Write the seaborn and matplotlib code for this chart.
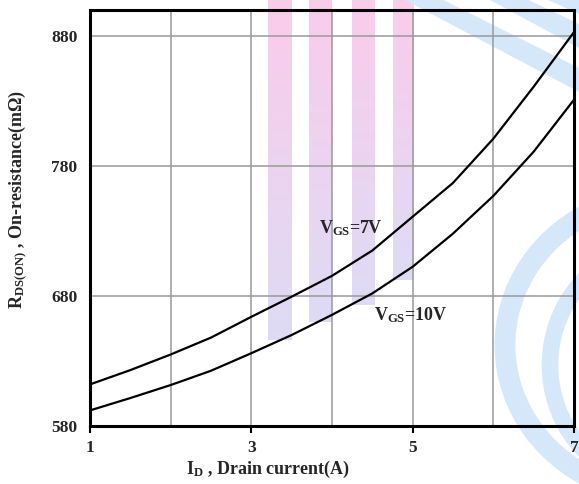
import numpy as np
import pandas as pd
import matplotlib
matplotlib.use("Agg")
import matplotlib.pyplot as plt
import seaborn as sns
from matplotlib.patches import Polygon, Arc

# ---- data ----
drain_current = [1, 1.5, 2, 2.5, 3, 3.5, 4, 4.5, 5, 5.5, 6, 6.5, 7]
rds_vgs7 = [612, 623, 635, 648, 664, 679.5, 695.5, 715, 741, 767, 801, 841, 883]
rds_vgs10 = [592, 601.5, 611.5, 622.5, 636, 650, 665.5, 682, 702.5, 728, 757, 791, 831]
series_names = ["VGS=7V", "VGS=10V"]
x_ticks = [1, 3, 5, 7]
x_grid_minor = [2, 4, 6]
y_ticks = [580, 680, 780, 880]

df = pd.DataFrame({
    "ID": drain_current * 2,
    "RDS": rds_vgs7 + rds_vgs10,
    "series": [series_names[0]] * len(drain_current) + [series_names[1]] * len(drain_current),
})

sns.set_theme(style="white")
plt.rcParams["font.family"] = ["Liberation Serif", "DejaVu Serif"]
plt.rcParams["font.weight"] = "bold"
plt.rcParams["mathtext.fontset"] = "custom"
plt.rcParams["mathtext.rm"] = "Liberation Serif:bold"
plt.rcParams["mathtext.it"] = "Liberation Serif:bold"
plt.rcParams["mathtext.bf"] = "Liberation Serif:bold"

W, H = 579, 484
fig = plt.figure(figsize=(W / 100, H / 100), dpi=100)

# ---- background watermark (pixel coordinates) ----
bg = fig.add_axes([0, 0, 1, 1], zorder=0)
bg.axis("off")
pink_top = np.array([0.98, 0.80, 0.92])
pink_bot = np.array([0.87, 0.86, 0.96])
grad = np.linspace(0, 1, 100)[:, None, None]
img = (pink_top * (1 - grad) + pink_bot * grad)
for (x0, x1, y1) in [(268, 292, 340), (309, 332, 322), (352, 375, 305), (393, 414, 280)]:
    bg.imshow(img, extent=(x0, x1, y1, 0), aspect="auto", zorder=0)
blue = "#d5e8f9"
for (xa, ya, xb, yb, t) in [(405, 0, 579, 92, 24), (490, 0, 579, 48, 24), (548, 0, 579, 14, 18)]:
    bg.add_patch(Polygon([(xa, ya), (xa + t * 1.6, ya), (xb, yb - t), (xb, yb)],
                         closed=True, color=blue, lw=0, zorder=0))
bg.add_patch(Arc((665, 345), 320, 300, theta1=112, theta2=245, color=blue, lw=15, zorder=0))
bg.add_patch(Arc((665, 365), 230, 240, theta1=112, theta2=245, color=blue, lw=12, zorder=0))
bg.set_xlim(0, W)
bg.set_ylim(H, 0)

# ---- main axes ----
ax = fig.add_axes([90 / W, 1 - 426 / H, (574 - 90) / W, (426 - 10) / H], zorder=1)
ax.set_facecolor("none")
sns.lineplot(data=df, x="ID", y="RDS", hue="series", palette=["black", "black"],
             linewidth=1.6, legend=False, ax=ax, zorder=3)

ax.set_xlim(1, 7)
ax.set_ylim(580, 900)
ax.set_xticks(x_ticks)
ax.set_xticks(x_grid_minor, minor=True)
ax.set_yticks(y_ticks)
ax.grid(True, which="both", color="#999999", linewidth=1.1, zorder=1)
ax.tick_params(axis="x", which="major", direction="out", length=5, width=1.5,
               color="black", pad=5, labelsize=12.5, bottom=True)
ax.tick_params(axis="x", which="minor", length=0)
ax.tick_params(axis="y", length=0, pad=9, labelsize=12.5, left=True)
for lab in ax.get_xticklabels() + ax.get_yticklabels():
    lab.set_fontweight("bold")
for sp in ax.spines.values():
    sp.set_visible(True)
    sp.set_color("black")
    sp.set_linewidth(2.2)
    sp.set_zorder(4)

ax.set_xlabel(r"$\mathrm{I_D}$ , Drain current(A)", fontsize=13, fontweight="bold")
ax.set_ylabel(r"$\mathrm{R_{DS(ON)}}$ , On-resistance(m$\Omega$)", fontsize=13, fontweight="bold")
ax.xaxis.set_label_coords((267.5 - 90) / 484, (426 - 469) / 416)
ax.xaxis.label.set_va("center")
ax.yaxis.set_label_coords((18 - 90) / 484, (426 - 199) / 416)
ax.yaxis.label.set_va("center")

ax.text(3.84, 732, r"$\mathrm{V_{GS}}$=7V", fontsize=13, fontweight="bold",
        ha="left", va="center", zorder=5)
ax.text(4.52, 665, r"$\mathrm{V_{GS}}$=10V", fontsize=13, fontweight="bold",
        ha="left", va="center", zorder=5)

fig.savefig("out.png", dpi=100)
